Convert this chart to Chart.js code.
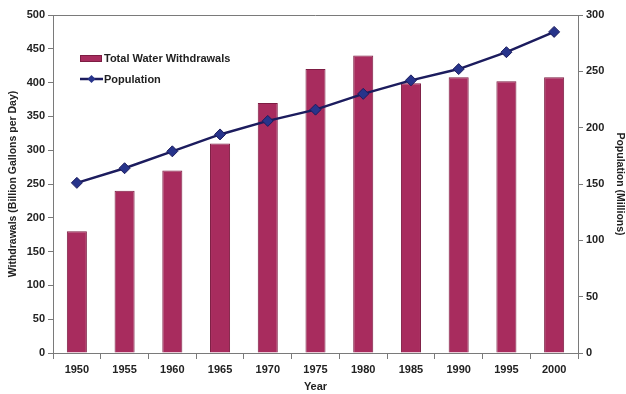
<!DOCTYPE html>
<html><head><meta charset="utf-8">
<script src="https://cdn.jsdelivr.net/npm/chart.js@4/dist/chart.umd.min.js"></script>
<style>html,body{margin:0;padding:0;background:#fff}#wrap{width:626px;height:394px;position:relative}</style>
</head><body><div id="wrap"><canvas id="c" width="626" height="394"></canvas></div>
<script>
const years = ['1950','1955','1960','1965','1970','1975','1980','1985','1990','1995','2000'];
const withdrawals = [180, 240, 270, 310, 370, 420, 440, 399, 408, 402, 408];
const population = [151, 164, 179, 194, 206, 216, 230, 242, 252, 267, 285];
const withdrawalLabel = 'Total Water Withdrawals';
const populationLabel = 'Population';
const leftTitle = 'Withdrawals (Billion Gallons per Day)';
const rightTitle = 'Population (Millions)';
const xTitle = 'Year';

Chart.defaults.font.family = '"Liberation Sans", Arial, sans-serif';
Chart.defaults.font.weight = 'bold';
Chart.defaults.font.size = 11;
Chart.defaults.color = '#222';

const axisColor = '#7a7a7a';

const insideLegend = {
  id: 'insideLegend',
  afterDraw(chart) {
    const ctx = chart.ctx;
    const bar = chart.data.datasets.find(d => d.label === withdrawalLabel);
    const line = chart.data.datasets.find(d => d.label === populationLabel);
    ctx.save();
    ctx.font = 'bold 11px "Liberation Sans", Arial, sans-serif';
    ctx.textBaseline = 'middle';
    ctx.fillStyle = bar.backgroundColor;
    ctx.fillRect(80, 55, 22, 7);
    ctx.strokeStyle = bar.borderColor; ctx.lineWidth = 1;
    ctx.strokeRect(80.5, 55.5, 21, 6);
    ctx.fillStyle = '#222';
    ctx.fillText(bar.label, 104, 58.5);
    ctx.strokeStyle = line.borderColor; ctx.lineWidth = 2.5;
    ctx.beginPath(); ctx.moveTo(80, 79); ctx.lineTo(103, 79); ctx.stroke();
    ctx.fillStyle = line.pointBackgroundColor;
    ctx.beginPath(); ctx.moveTo(91.5, 75); ctx.lineTo(95.5, 79); ctx.lineTo(91.5, 83); ctx.lineTo(87.5, 79); ctx.closePath(); ctx.fill();
    ctx.fillStyle = '#222';
    ctx.fillText(line.label, 104, 79.5);
    const a = chart.chartArea;
    ctx.strokeStyle = axisColor; ctx.lineWidth = 1;
    ctx.beginPath(); ctx.moveTo(a.left, a.top + 0.5); ctx.lineTo(a.right, a.top + 0.5); ctx.stroke();
    ctx.restore();
  }
};

new Chart(document.getElementById('c'), {
  type: 'bar',
  data: {
    labels: years,
    datasets: [
      {
        type: 'line', label: populationLabel, data: population, yAxisID: 'y2',
        borderColor: '#1c1c5e', borderWidth: 2.5, pointStyle: 'rectRot', pointRadius: 5.5,
        pointBackgroundColor: '#27348b', pointBorderColor: '#1c1c5e', pointBorderWidth: 1,
        tension: 0, order: 0
      },
      {
        label: withdrawalLabel, data: withdrawals, yAxisID: 'y',
        backgroundColor: '#a82c5e', borderColor: '#7d1d43', borderWidth: 1,
        categoryPercentage: 1, barPercentage: 0.42, order: 1
      }
    ]
  },
  options: {
    responsive: false, animation: false,
    layout: { padding: { top: 15, left: 0, right: 0, bottom: 0 } },
    plugins: { legend: { display: false }, tooltip: { enabled: false } },
    scales: {
      x: {
        grid: { display: true, drawOnChartArea: false, tickLength: 6, color: axisColor, offset: true },
        border: { color: axisColor },
        ticks: { padding: 4, color: '#222', maxRotation: 0 },
        title: { display: true, text: xTitle, padding: { top: 2, bottom: 0 }, color: '#222' },
        afterFit(s) { s.height = 41; }
      },
      y: {
        position: 'left', min: 0, max: 500,
        ticks: { stepSize: 50, padding: 3, color: '#222' },
        grid: { drawOnChartArea: false, tickLength: 5, color: axisColor },
        border: { color: axisColor },
        title: { display: true, text: leftTitle, color: '#222', padding: { top: 7, bottom: 0 }, font: { size: 10.5 } },
        afterFit(s) { s.width = 53; }
      },
      y2: {
        position: 'right', min: 0, max: 300,
        ticks: { stepSize: 50, padding: 3, color: '#222' },
        grid: { drawOnChartArea: false, tickLength: 5, color: axisColor },
        border: { color: axisColor },
        title: { display: true, text: rightTitle, color: '#222', padding: 0, font: { size: 10.5 } },
        afterFit(s) { s.width = 48; }
      }
    }
  },
  plugins: [insideLegend]
});
</script>
</body></html>
